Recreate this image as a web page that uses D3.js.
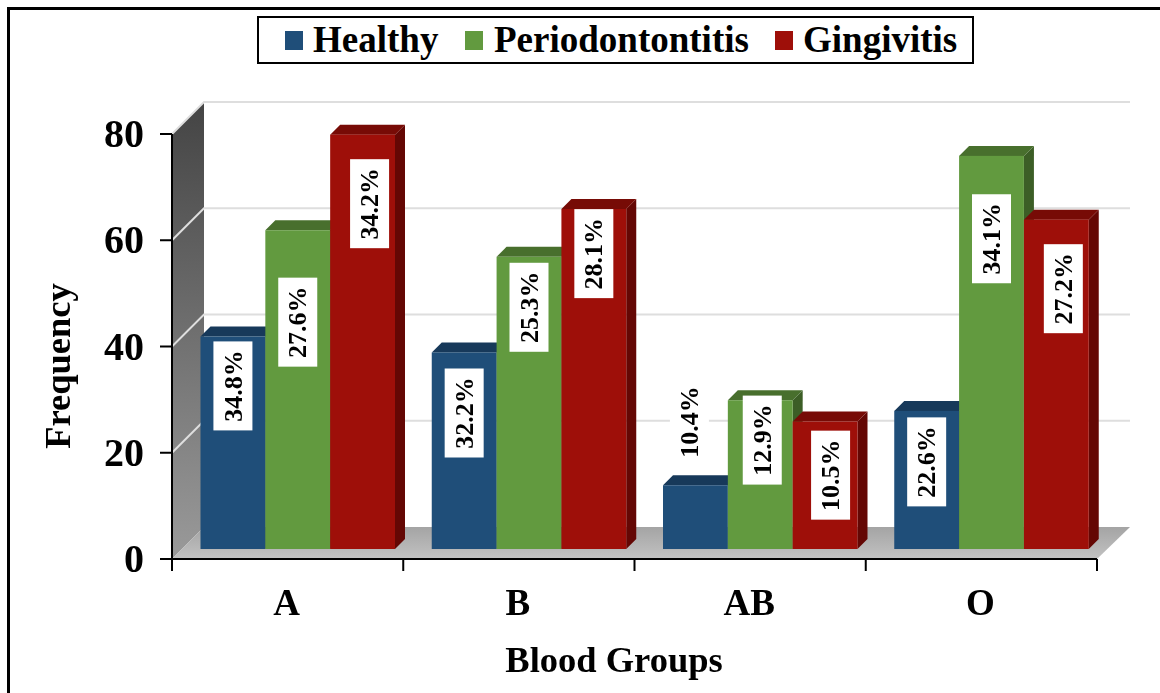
<!DOCTYPE html>
<html><head><meta charset="utf-8">
<script src="https://cdn.jsdelivr.net/npm/d3@7/dist/d3.min.js"></script>
<style>html,body{margin:0;padding:0;background:#fff}svg{display:block;filter:blur(0.4px)}text{font-family:"Liberation Serif",serif;font-weight:bold;fill:#000}</style>
</head><body><svg id="c" width="1160" height="693"></svg>
<script>
const categories = ["A","B","AB","O"];
const seriesNames = ["Healthy","Periodontontitis","Gingivitis"];
const healthy = [40,37,12,26];
const periodontitis = [60,55,28,74];
const gingivitis = [78,64,24,62];
const healthyPct = ["34.8%","32.2%","10.4%","22.6%"];
const periodontitisPct = ["27.6%","25.3%","12.9%","34.1%"];
const gingivitisPct = ["34.2%","28.1%","10.5%","27.2%"];
// value on the y scale at which each percentage label is centred
const healthyLabelAt = [30.7,25.6,23.9,16.4];
const periodontitisLabelAt = [42.7,45.5,20.5,58.4];
const gingivitisLabelAt = [65,55.6,13.9,49];
const yTicks = [0,20,40,60,80];
const colors = ["#1f4e79","#629a3f","#9e0f09"];
const tops = ["#17395a","#486f2d","#770b06"];
const sides = ["#123049","#3c5e26","#640704"];
const allValues=[healthy,periodontitis,gingivitis], allPct=[healthyPct,periodontitisPct,gingivitisPct], allAt=[healthyLabelAt,periodontitisLabelAt,gingivitisLabelAt];

const svg=d3.select("#c");
const defs=svg.append("defs");
const wg=defs.append("linearGradient").attr("id","wall").attr("x1",0).attr("y1",0).attr("x2",0).attr("y2",1);
wg.append("stop").attr("offset",0).attr("stop-color","#444");
wg.append("stop").attr("offset",1).attr("stop-color","#9a9a9a");
const fg=defs.append("linearGradient").attr("id","floor").attr("x1",0).attr("y1",0).attr("x2",0).attr("y2",1);
fg.append("stop").attr("offset",0).attr("stop-color","#a4a4a4");
fg.append("stop").attr("offset",1).attr("stop-color","#c2c2c2");

// frame
svg.append("path").attr("d","M8.5,693V8.5H1160").attr("fill","none").attr("stroke","#000").attr("stroke-width",3);

const y=d3.scaleLinear().domain([0,80]).range([559,134]);
const x=d3.scaleBand().domain(categories).range([172,1097]);
const inner=d3.scaleBand().domain(d3.range(3)).range([28.5,223]);
const D=32, d=10;

// wall & floor
svg.append("path").attr("d",`M172,${y(0)}V${y(80)}L${172+D},${y(80)-D}V${y(0)-D}Z`).attr("fill","url(#wall)");
svg.append("path").attr("d",`M172,${y(0)}L${172+D},${y(0)-D}H${1097+D+1}L${1097},${y(0)}Z`).attr("fill","url(#floor)");
// gridlines
yTicks.filter(t=>t>0).forEach(t=>{
  svg.append("path").attr("d",`M172,${y(t)}L${172+D},${y(t)-D}H${1097+D+1}`).attr("fill","none").attr("stroke","#dedede").attr("stroke-width",2);
});

// bars
categories.forEach((c,i)=>{
  [0,1,2].forEach(s=>{
    const v=allValues[s][i];
    const x0=x(c)+inner(s), x1=x0+inner.bandwidth(), y0=y(0)-d, y1=y(v)-d;
    const g=svg.append("g");
    g.append("path").attr("d",`M${x1},${y1}L${x1+d},${y1-d}V${y0-d}L${x1},${y0}Z`).attr("fill",sides[s]);
    g.append("path").attr("d",`M${x0},${y1}L${x0+d},${y1-d}H${x1+d}L${x1},${y1}Z`).attr("fill",tops[s]);
    g.append("rect").attr("x",x0).attr("y",y1).attr("width",x1-x0).attr("height",y0-y1).attr("fill",colors[s]);
  });
});
// labels
const nudge={"A-2":7,"AB-2":5.5,"O-2":7,"AB-1":2,"AB-0":-6};
categories.forEach((c,i)=>{
  [0,1,2].forEach(s=>{
    const cx=x(c)+inner(s)+inner.bandwidth()/2+(nudge[c+"-"+s]||0), cy=y(allAt[s][i])-d;
    const g=svg.append("g").attr("transform",`translate(${cx},${cy})`);
    g.append("rect").attr("x",-19.5).attr("y",-44.5).attr("width",39).attr("height",89).attr("fill","#fff");
    g.append("text").attr("transform","rotate(-90)").attr("text-anchor","middle").attr("dy","0.33em").attr("font-size",26).text(allPct[s][i]);
  });
});

// axes
const ax=svg.append("g").attr("stroke","#000").attr("stroke-width",2);
ax.append("line").attr("x1",172).attr("x2",172).attr("y1",y(80)).attr("y2",y(0)+12);
ax.append("line").attr("x1",160).attr("x2",1097).attr("y1",y(0)).attr("y2",y(0));
yTicks.forEach(t=>ax.append("line").attr("x1",160).attr("x2",172).attr("y1",y(t)).attr("y2",y(t)));
x.domain().concat([null]).forEach(c=>{const px=c===null?1097:x(c);ax.append("line").attr("x1",px).attr("x2",px).attr("y1",y(0)).attr("y2",y(0)+12);});
yTicks.forEach(t=>svg.append("text").attr("x",144).attr("y",y(t)).attr("dy","0.33em").attr("text-anchor","end").attr("font-size",40).text(t));
categories.forEach(c=>svg.append("text").attr("x",x(c)+x.bandwidth()/2-1).attr("y",615).attr("text-anchor","middle").attr("font-size",37).text(c));
svg.append("text").attr("x",614).attr("y",672).attr("text-anchor","middle").attr("font-size",36.5).text("Blood Groups");
svg.append("text").attr("transform","translate(70,366) rotate(-90)").attr("text-anchor","middle").attr("font-size",36.5).text("Frequency");

// legend
svg.append("rect").attr("x",258).attr("y",17).attr("width",715).attr("height",46).attr("fill","#fff").attr("stroke","#000").attr("stroke-width",2);
const lx=[285,465,775], tx=[313,494,803];
seriesNames.forEach((n,i)=>{
  svg.append("rect").attr("x",lx[i]).attr("y",31).attr("width",18).attr("height",19).attr("fill",colors[i]);
  svg.append("text").attr("x",tx[i]).attr("y",52).attr("font-size",37).text(n);
});
</script></body></html>
